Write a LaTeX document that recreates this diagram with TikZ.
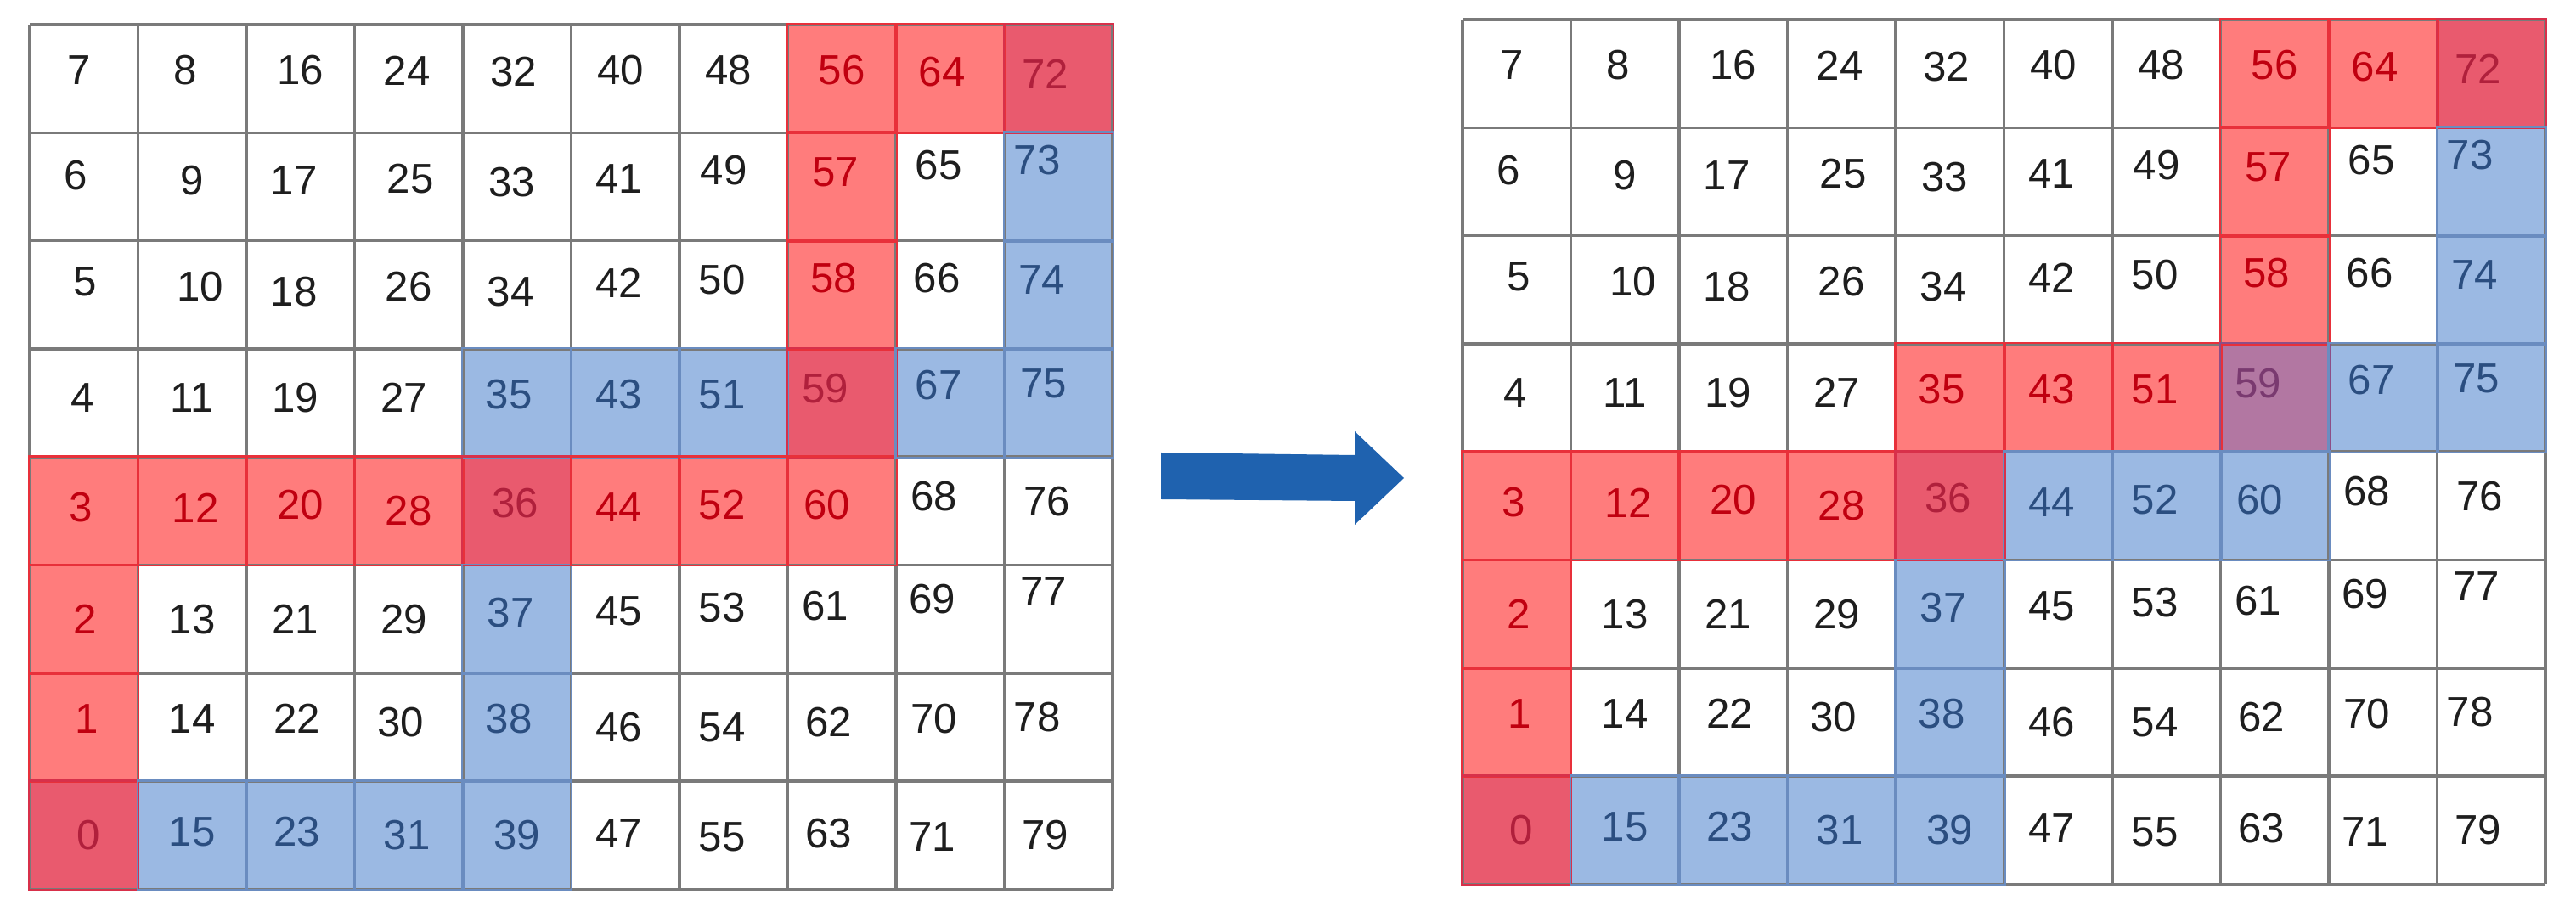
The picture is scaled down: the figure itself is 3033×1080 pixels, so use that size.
\documentclass[tikz,border=0pt]{standalone}
\usepackage{fontspec}
\setmainfont{Liberation Sans}
\definecolor{wF}{HTML}{FFFFFF}
\definecolor{rF}{HTML}{FF7C7C}
\definecolor{RF}{HTML}{E95A6E}
\definecolor{bF}{HTML}{9BB9E3}
\definecolor{pF}{HTML}{B277A2}
\definecolor{wT}{HTML}{1E1E1E}
\definecolor{rT}{HTML}{C00010}
\definecolor{RT}{HTML}{B0203C}
\definecolor{bT}{HTML}{2B4E80}
\definecolor{pT}{HTML}{7A3A70}
\definecolor{gL}{HTML}{7A7A7A}
\definecolor{rL}{HTML}{E8303A}
\definecolor{RL}{HTML}{D8304A}
\definecolor{bL}{HTML}{6A8CC0}
\definecolor{pL}{HTML}{8E4E86}
\definecolor{arrowC}{HTML}{1F62AF}
\tikzset{
  cellbox/.style={rectangle, minimum width=1.275cm, minimum height=1.273cm, inner sep=0pt, draw=none},
  gridline/.style={draw=gL, line width=1pt},
  numtext/.style={inner sep=0pt, font=\fontsize{14pt}{16pt}\selectfont},
}
\newcommand\setcells[2]{\foreach \c/\r/\s in {#2}{\expandafter\xdef\csname cs#1-\c-\r\endcsname{\s}}}
\newcommand\getstyle[3]{\ifcsname cs#1-#2-#3\endcsname\xdef\curst{\csname cs#1-#2-#3\endcsname}\else\gdef\curst{w}\fi}
\def\offsets{%
0/0/-3/-5,1/0/-4/-5,2/0/0/-5,3/0/-1/-5,4/0/-2/-4,5/0/-3/-5,6/0/-3/-5,7/0/0/-5,8/0/-5/-4,9/0/-8/-3,
0/1/-5/-7,1/1/0/-4,2/1/-4/-4,3/1/1/-5,4/1/-3/-3,5/1/-4/-5,6/1/-6/-10,7/1/-4/-9,8/1/-7/-13,9/1/-13/-16,
0/2/1/-8,1/2/5/-5,2/2/-4/-2,3/2/0/-5,4/2/-4/-2,5/2/-4/-7,6/2/-7/-9,7/2/-5/-10,8/2/-8/-10,9/2/-10/-9,
0/3/-1/-3,1/3/0/-3,2/3/-3/-3,3/3/-3/-3,4/3/-5/-5,5/3/-4/-5,6/3/-7/-5,7/3/-10/-9,8/3/-7/-11,9/3/-9/-12,
0/4/-2/-2,1/4/2/-2,2/4/0/-4,3/4/0/0,4/4/-1/-5,5/4/-4/-2,6/4/-7/-4,7/4/-9/-4,8/4/-10/-9,9/4/-7/-6,
0/5/1/0,1/5/0/0,2/5/-3/0,3/5/-3/0,4/5/-4/-4,5/5/-4/-5,6/5/-7/-7,7/5/-10/-8,8/5/-11/-12,9/5/-9/-17,
0/6/2/-5,1/6/0/-5,2/6/-2/-5,3/6/-5/-3,4/6/-5/-5,5/6/-4/0,6/6/-7/0,7/6/-8/-3,8/6/-10/-5,9/6/-13/-6,
0/7/3/0,1/7/0/-2,2/7/-2/-2,3/7/-1/0,4/7/0/0,5/7/-4/-1,6/7/-7/1,7/7/-8/-1,8/7/-11/1,9/7/-8/0}
\newcommand\drawgrid[3]{%
  % #1 prefix, #2 x0, #3 y0 (image pixels)
  \foreach \c in {0,...,9}{\foreach \r in {0,...,7}{%
    \getstyle{#1}{\c}{\r}%
    \node[cellbox, fill=\curst F] (#1c\c r\r) at (#2+\c*127.5+63.75, #3+\r*127.3+63.65) {};
  }}
  \foreach \c in {0,...,10}{\draw[gridline] (#2+\c*127.5, #3) -- ++(0,1018.4);}
  \foreach \r in {0,...,8}{\draw[gridline] (#2, #3+\r*127.3) -- ++(1275,0);}
  \foreach \c in {0,...,9}{\foreach \r in {0,...,7}{%
    \getstyle{#1}{\c}{\r}%
    \if w\curst\else
      \draw[draw=\curst L, line width=0.7pt] (#1c\c r\r.north west) rectangle (#1c\c r\r.south east);
    \fi
  }}
  \foreach \c/\r/\dx/\dy in \offsets{%
    \getstyle{#1}{\c}{\r}%
    \pgfmathtruncatemacro\num{\c==0 ? 7-\r : 8*\c+\r}%
    \node[numtext, text=\curst T] (#1n\num) at (#2+\c*127.5+63.75+\dx*1.934, #3+\r*127.3+63.65+\dy*1.934) {\num};
  }
}
\begin{document}
\begin{tikzpicture}[x=0.01cm, y=-0.01cm]
\useasboundingbox (0,0) rectangle (3033,1080);
\fill[white] (0,0) rectangle (3033,1080);
\setcells{L}{7/0/r,8/0/r,9/0/R,7/1/r,9/1/b,7/2/r,9/2/b,4/3/b,5/3/b,6/3/b,7/3/R,8/3/b,9/3/b,
  0/4/r,1/4/r,2/4/r,3/4/r,4/4/R,5/4/r,6/4/r,7/4/r,0/5/r,4/5/b,0/6/r,4/6/b,0/7/R,1/7/b,2/7/b,3/7/b,4/7/b}
\setcells{R}{7/0/r,8/0/r,9/0/R,7/1/r,9/1/b,7/2/r,9/2/b,4/3/r,5/3/r,6/3/r,7/3/p,8/3/b,9/3/b,
  0/4/r,1/4/r,2/4/r,3/4/r,4/4/R,5/4/b,6/4/b,7/4/b,0/5/r,4/5/b,0/6/r,4/6/b,0/7/R,1/7/b,2/7/b,3/7/b,4/7/b}
\drawgrid{L}{35}{29}
\drawgrid{R}{1722}{23}
\fill[arrowC] (1367,533) -- (1595,536) -- (1595,508) -- (1653,563) -- (1595,618) -- (1595,590) -- (1367,588) -- cycle;
\end{tikzpicture}
\end{document}
